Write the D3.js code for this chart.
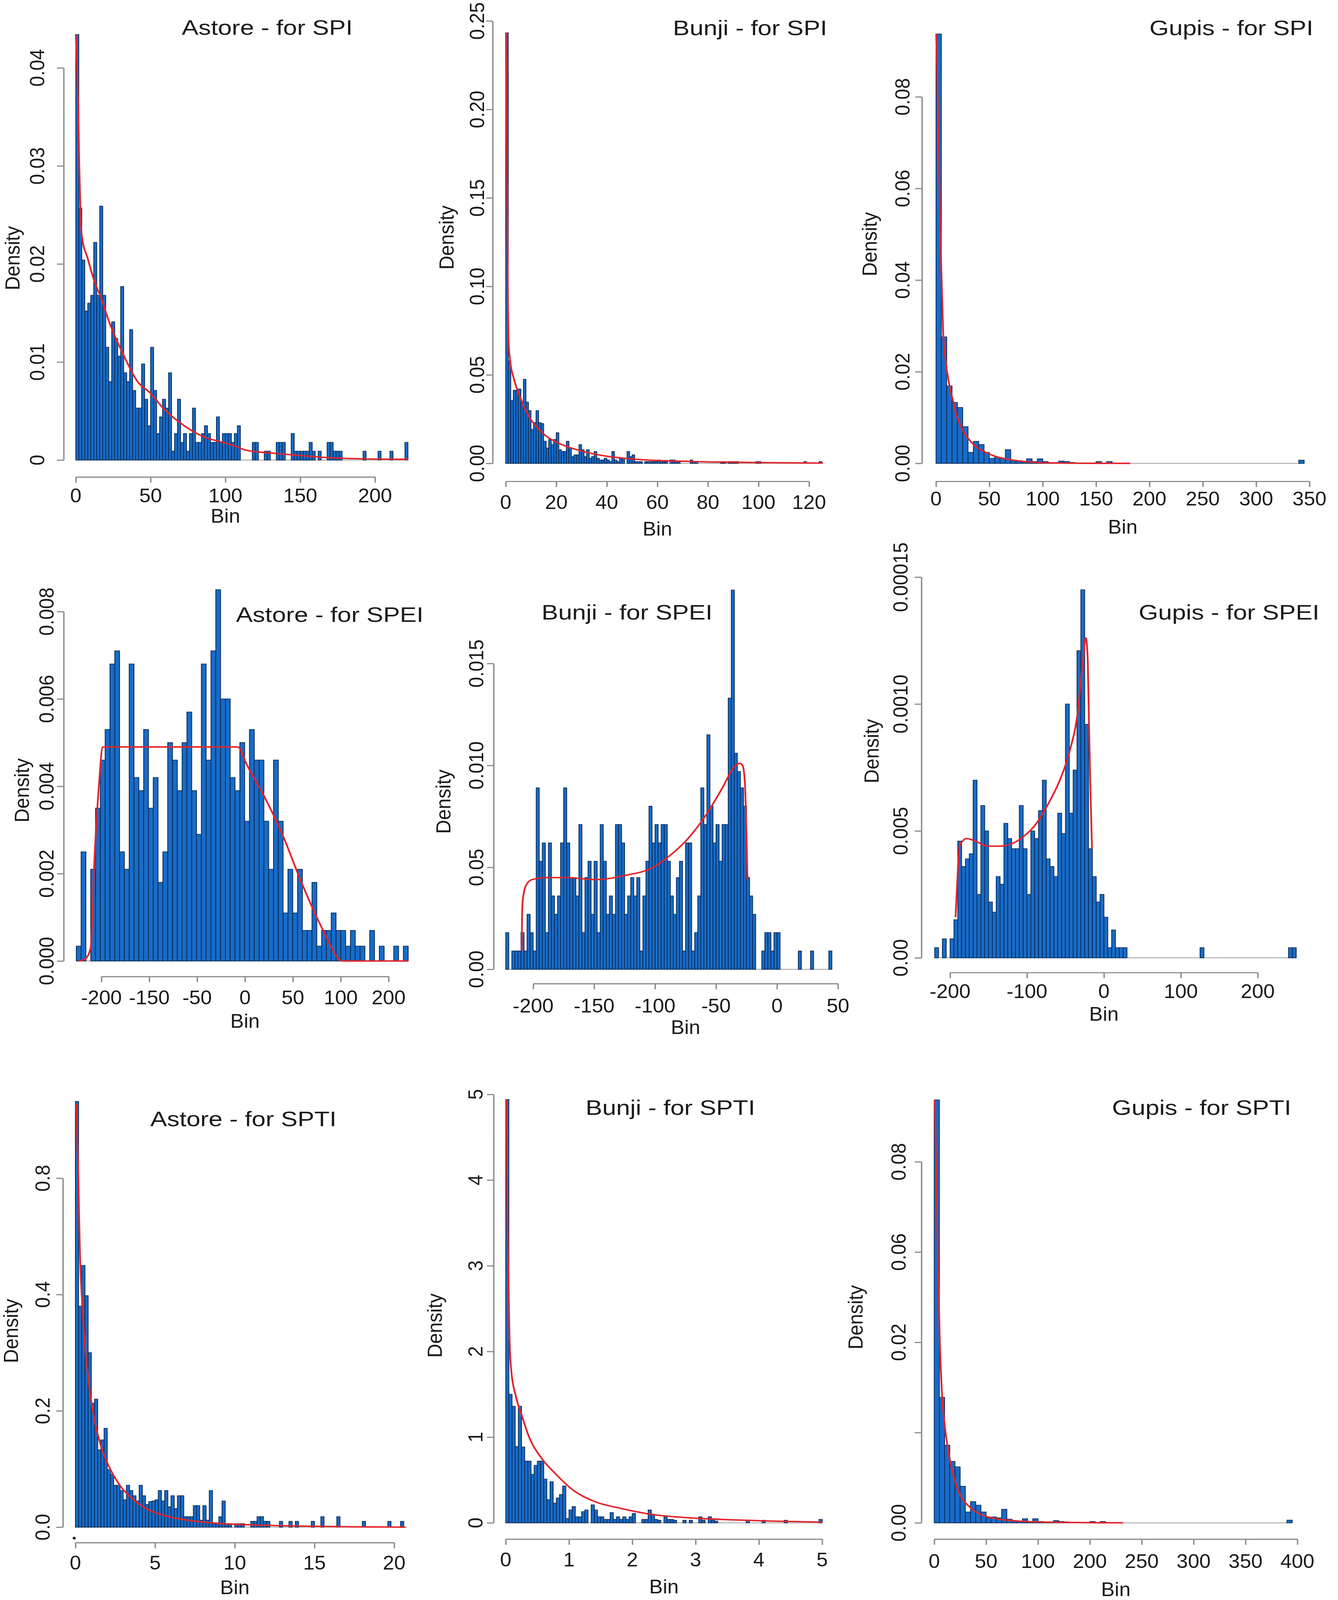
<!DOCTYPE html>
<html>
<head>
<meta charset="utf-8">
<script src="https://cdn.jsdelivr.net/npm/d3@7"></script>
<style>
  html, body { margin: 0; padding: 0; background: #fff; overflow: hidden; }
  svg { display: block; }
</style>
</head>
<body>
<svg id="chart"></svg>
<script>
// ---- datos ----
const titles = ["Astore - for SPI", "Bunji - for SPI", "Gupis - for SPI",
                "Astore - for SPEI", "Bunji - for SPEI", "Gupis - for SPEI",
                "Astore - for SPTI", "Bunji - for SPTI", "Gupis - for SPTI"];

// Astore SPI
const astoreSpiStart = 0, astoreSpiWidth = 2;
const astoreSpiDensity = [0.0434,0.0257,0.0204,0.0152,0.0160,0.0168,0.0222,0.0168,0.0259,0.0168,
  0.0115,0.0080,0.0141,0.0124,0.0106,0.0177,0.0089,0.0080,0.0133,0.0071,
  0.0053,0.0053,0.0098,0.0062,0.0035,0.0115,0.0071,0.0027,0.0044,0.0062,
  0.0053,0.0089,0.0009,0.0027,0.0062,0.0018,0.0027,0.0009,0.0027,0.0053,
  0.0018,0.0018,0.0027,0.0035,0.0027,0.0018,0.0018,0.0044,0.0018,0.0027,
  0.0027,0.0027,0.0018,0.0027,0.0035,0,0,0,0,0.0018,
  0.0018,0,0,0.0009,0.0009,0,0,0.0018,0.0018,0.0018,
  0,0,0.0027,0.0009,0.0009,0.0009,0.0009,0.0009,0.0018,0.0009,
  0,0.0009,0,0,0.0018,0.0018,0.0009,0.0009,0.0009,0,
  0,0,0,0,0,0,0.0009,0,0,0,
  0,0.0009,0,0,0,0.0009,0,0,0,0,0.0018];
const astoreSpiFit = [[0,0.0434],[1.5,0.0365],[2.4,0.0296],[3.3,0.0244],[4.2,0.0227],[7.9,0.0206],
  [12.5,0.0182],[17,0.0165],[22.5,0.014],[28,0.012],[33.5,0.0102],[40.8,0.0081],[50,0.0068],
  [59,0.0052],[68,0.004],[77.5,0.003],[86.6,0.0023],[95.8,0.0019],[105,0.0015],[114,0.001],
  [132,0.0007],[150.7,0.00045],[169,0.00024],[187,0.00014],[222,0.00007]];
const astoreSpiXTicks = [0, 50, 100, 150, 200];
const astoreSpiXLabels = ["0", "50", "100", "150", "200"];
const astoreSpiYTicks = [0, 0.01, 0.02, 0.03, 0.04];
const astoreSpiYLabels = ["0", "0.01", "0.02", "0.03", "0.04"];

// Bunji SPI
const bunjiSpiStart = 0, bunjiSpiWidth = 1;
const bunjiSpiDensity = [0.2433,0.058,0.0356,0.0413,0.0413,0.042,0.0346,0.0475,0.0346,0.0298,
  0.0192,0.023,0.0298,0.023,0.0225,0.0125,0.0087,0.0135,0.0106,0.0135,
  0.0173,0.0077,0.0067,0.0067,0.0125,0.0087,0.0038,0.0048,0.0048,0.0106,
  0.0077,0.0038,0.0077,0.0029,0.0038,0.0067,0.0029,0.0019,0.0019,0.0029,
  0.0019,0.001,0.0067,0.0019,0.001,0.0029,0.0029,0,0.0067,0.0038,
  0.0048,0.001,0.001,0.001,0,0.001,0.001,0.001,0.001,0.001,
  0.0019,0.0015,0.001,0.001,0,0.0019,0.0019,0.001,0.001,0,
  0,0,0,0.0019,0.001,0.001,0,0,0,0,
  0,0,0,0,0,0.001,0.001,0,0.001,0.001,
  0.001,0.001,0,0,0,0,0,0,0,0.001,
  0.001,0,0,0,0,0,0,0,0,0,
  0,0,0,0,0,0,0,0,0.001,0,
  0,0,0,0,0.001];
const bunjiSpiFit = [[0.1,0.2433],[0.6,0.147],[0.9,0.089],[1.1,0.070],[1.7,0.0587],[3.4,0.047],
  [5.7,0.0375],[8,0.0298],[10.3,0.024],[12.6,0.0202],[16,0.0154],[19.4,0.0125],[24,0.0096],
  [29.7,0.0071],[35.4,0.0052],[41,0.0038],[46.9,0.0029],[58.3,0.0017],[69.7,0.0012],[81,0.0008],
  [92.6,0.0006],[104,0.0004],[125.5,0.0002]];
const bunjiSpiXTicks = [0, 20, 40, 60, 80, 100, 120];
const bunjiSpiXLabels = ["0", "20", "40", "60", "80", "100", "120"];
const bunjiSpiYTicks = [0, 0.05, 0.10, 0.15, 0.20, 0.25];
const bunjiSpiYLabels = ["0.00", "0.05", "0.10", "0.15", "0.20", "0.25"];

// Gupis SPI
const gupisSpiStart = 0, gupisSpiWidth = 5;
const gupisSpiDensity = [0.0937,0.0276,0.0169,0.0133,0.0122,0.0080,0.0024,0.0048,0.0041,0.0024,
  0.0011,0.0013,0.0011,0.0030,0.0007,0.0006,0.0004,0.0010,0.0004,0.0010,
  0.0004,0.0002,0.0002,0.0005,0.0004,0.0002,0,0,0,0,
  0.0004,0,0.0004,0,0,0,0,0,0,0,
  0,0,0,0,0,0,0,0,0,0,
  0,0,0,0,0,0,0,0,0,0,
  0,0,0,0,0,0,0,0,0.0007];
const gupisSpiFit = [[0.2,0.0937],[2,0.075],[3.4,0.0596],[5,0.0419],[6.7,0.0285],[8.9,0.0226],
  [11.7,0.0181],[15.9,0.0137],[20,0.01],[25.7,0.007],[34,0.0044],[45,0.0026],[56,0.0015],
  [73,0.0007],[95.5,0.0002],[134,0.00003],[182,0]];
const gupisSpiXTicks = [0, 50, 100, 150, 200, 250, 300, 350];
const gupisSpiXLabels = ["0", "50", "100", "150", "200", "250", "300", "350"];
const gupisSpiYTicks = [0, 0.02, 0.04, 0.06, 0.08];
const gupisSpiYLabels = ["0.00", "0.02", "0.04", "0.06", "0.08"];

// Astore SPEI
const astoreSpeiStart = -235, astoreSpeiWidth = 6.7;
const astoreSpeiDensity = [0.00034,0.0025,0,0.0021,0.0035,0.0046,0.0053,0.0068,0.0071,0.0025,
  0.0021,0.0068,0.0042,0.0039,0.0053,0.0035,0.0042,0.0018,0.0025,0.0050,
  0.0046,0.0039,0.0050,0.0057,0.0039,0.0029,0.0068,0.0046,0.0071,0.0085,
  0.0060,0.0060,0.0042,0.0039,0.0050,0.0032,0.0053,0.0046,0.0046,0.0032,
  0.0021,0.0046,0.0032,0.0011,0.0021,0.0011,0.0021,0.0007,0.0007,0.0018,
  0.00034,0.0007,0.0007,0.0011,0.0007,0.0007,0.00034,0.0007,0.00034,0.00034,
  0,0.0007,0,0.00034,0,0,0.00034,0,0.00034];
const astoreSpeiFit = [[-232,0],[-223,0.00004],[-215,0.0003],[-209.5,0.0024],[-204,0.0039],
  [-198,0.0049],[-10,0.0049],[2.3,0.0045],[29,0.0037],[52,0.0029],[78.6,0.0018],[109,0.0007],
  [136,0],[227.5,0]];
const astoreSpeiXTicks = [-200, -133.33, -66.67, 0, 66.67, 133.33, 200];
const astoreSpeiXLabels = ["-200", "-150", "-50", "0", "50", "100", "200"];
const astoreSpeiYTicks = [0, 0.002, 0.004, 0.006, 0.008];
const astoreSpeiYLabels = ["0.000", "0.002", "0.004", "0.006", "0.008"];

// Bunji SPEI
const bunjiSpeiStart = -222.5, bunjiSpeiWidth = 2.5;
const bunjiSpeiDensity = [0.0018,0,0.0009,0.0009,0.0009,0.0018,0.0009,0.0027,0.0018,0.0009,
  0.0089,0.0053,0.0062,0.0018,0.0062,0.0036,0.0027,0.0036,0.0062,0.0089,
  0.0062,0.0045,0.0045,0.0036,0.0071,0.0018,0.0045,0.0053,0.0027,0.0053,
  0.0018,0.0071,0.0053,0.0027,0.0036,0.0027,0.0071,0.0071,0.0062,0.0027,
  0.0036,0.0045,0.0036,0.0045,0.0009,0.0036,0.0053,0.0080,0.0062,0.0071,
  0.0062,0.0071,0.0071,0.0053,0.0036,0.0027,0.0045,0.0053,0.0009,0.0062,
  0.0062,0.0009,0.0018,0.0036,0.0089,0.0071,0.0115,0.0080,0.0062,0.0071,
  0.0053,0.0071,0.0071,0.0133,0.0186,0.0106,0.0097,0.0089,0.0080,0.0045,
  0.0036,0.0027,0,0,0.0009,0.0018,0.0018,0.0009,0.0018,0.0018,
  0,0,0,0,0,0,0.0009,0,0,0,
  0.0009,0,0,0,0,0,0.0009];
const bunjiSpeiFit = [[-209.5,0.0009],[-208.8,0.0032],[-207.8,0.0037],[-206,0.0041],[-201,0.0044],
  [-189,0.0045],[-172.7,0.0045],[-149,0.0044],[-125,0.0046],[-101.7,0.005],[-87.4,0.0056],
  [-73.2,0.0064],[-59,0.0075],[-44.8,0.0089],[-35.3,0.0099],[-30.5,0.0101],[-28.2,0.01],
  [-26.3,0.0091],[-25.3,0.0072],[-24.2,0.0044]];
const bunjiSpeiXTicks = [-200, -150, -100, -50, 0, 50];
const bunjiSpeiXLabels = ["-200", "-150", "-100", "-50", "0", "50"];
const bunjiSpeiYTicks = [0, 0.005, 0.010, 0.015];
const bunjiSpeiYLabels = ["0.00", "0.05", "0.010", "0.015"];

// Gupis SPEI
const gupisSpeiStart = -220, gupisSpeiWidth = 5;
const gupisSpeiDensity = [0.0004,0,0.00075,0,0.00075,0.0015,0.0046,0.0036,0.0039,0.0041,
  0.0070,0.0025,0.0060,0.0050,0.0022,0.0018,0.0032,0.0029,0.0053,0.0047,
  0.0043,0.0043,0.0060,0.0043,0.0025,0.0050,0.0047,0.0058,0.0070,0.0039,
  0.0036,0.0032,0.0057,0.0049,0.0100,0.0057,0.0074,0.0121,0.0145,0.0092,
  0.0043,0.0032,0.0022,0.0025,0.0016,0.0004,0.0011,0.0004,0.0004,0.0004,
  0,0,0,0,0,0,0,0,0,0,
  0,0,0,0,0,0,0,0,0,0.0004,
  0,0,0,0,0,0,0,0,0,0,
  0,0,0,0,0,0,0,0,0,0,
  0,0,0.0004,0.0004];
const gupisSpeiFit = [[-192.9,0.0016],[-190,0.0034],[-187.7,0.0044],[-183.7,0.0046],[-179,0.0047],
  [-167,0.0046],[-151,0.0044],[-135,0.0044],[-119.4,0.0045],[-103.6,0.0048],[-87.7,0.0053],
  [-71.8,0.0061],[-56,0.0071],[-44,0.0082],[-34,0.0097],[-28,0.0115],[-23.4,0.0126],[-21,0.0117],
  [-19.4,0.0092],[-17.5,0.0066],[-15.5,0.0043]];
const gupisSpeiXTicks = [-200, -100, 0, 100, 200];
const gupisSpeiXLabels = ["-200", "-100", "0", "100", "200"];
const gupisSpeiYTicks = [0, 0.005, 0.010, 0.015];
const gupisSpeiYLabels = ["0.00", "0.005", "0.0010", "0.00015"];

// Astore SPTI
const astoreSptiStart = 0, astoreSptiWidth = 0.2;
const astoreSptiDensity = [0.732,0.380,0.450,0.398,0.300,0.213,0.220,0.133,0.150,0.170,
  0.099,0.091,0.072,0.072,0.063,0.047,0.072,0.063,0.054,0.045,
  0.072,0.054,0.039,0.044,0.045,0.047,0.063,0.045,0.063,0.035,
  0.054,0.032,0.054,0.054,0.018,0.018,0.018,0.037,0.037,0.012,
  0.037,0.012,0.063,0.006,0.006,0.018,0.045,0.006,0.006,0,
  0.006,0.006,0.006,0,0,0.010,0.010,0.018,0.018,0.010,
  0.010,0,0,0,0.010,0,0,0.010,0,0.010,
  0,0,0,0,0.010,0,0,0.018,0,0,
  0,0,0.018,0,0,0,0,0,0,0,
  0.010,0,0,0,0,0,0,0,0.010,0,
  0,0,0.010,0];
const astoreSptiFit = [[0.05,0.728],[0.17,0.617],[0.29,0.465],[0.43,0.383],[0.6,0.313],[0.86,0.243],
  [1.2,0.184],[1.63,0.137],[2.15,0.102],[2.84,0.070],[3.53,0.050],[4.38,0.033],[5.59,0.020],
  [7.3,0.011],[9.03,0.0064],[11.6,0.0035],[14.2,0.0018],[17.6,0.0006],[20.7,0]];
const astoreSptiXTicks = [0, 5, 10, 15, 20];
const astoreSptiXLabels = ["0", "5", "10", "15", "20"];
const astoreSptiYTicks = [0, 0.2, 0.4, 0.6];
const astoreSptiYLabels = ["0.0", "0.2", "0.4", "0.8"];

// Bunji SPTI
const bunjiSptiStart = 0, bunjiSptiWidth = 0.05;
const bunjiSptiDensity = [4.94,1.50,1.36,0.89,1.36,0.885,0.72,0.72,0.566,0.67,
  0.72,0.72,0.51,0.27,0.48,0.23,0.29,0.33,0.43,0.05,
  0.15,0.19,0.07,0.07,0.13,0.15,0,0.21,0.15,0.07,
  0.07,0.04,0.04,0.12,0.04,0.07,0.04,0.07,0.04,0.07,
  0.11,0,0,0.04,0.04,0.15,0.10,0.04,0.03,0,
  0.07,0.04,0.04,0.03,0,0,0.03,0,0.03,0,
  0,0.07,0.03,0,0.07,0.03,0.02,0,0,0,
  0,0,0,0,0,0,0.03,0,0,0,
  0,0.03,0,0,0,0,0,0,0.03,0,
  0,0,0,0,0,0,0,0,0,0.04];
const bunjiSptiFit = [[0.01,4.94],[0.03,3.36],[0.06,2.16],[0.09,1.76],[0.16,1.48],[0.26,1.24],
  [0.37,1.0],[0.55,0.77],[0.79,0.57],[1.05,0.39],[1.4,0.25],[1.83,0.167],[2.33,0.096],
  [2.87,0.06],[3.55,0.036],[4.23,0.02],[5,0.008]];
const bunjiSptiXTicks = [0, 1, 2, 3, 4, 5];
const bunjiSptiXLabels = ["0", "1", "2", "3", "4", "5"];
const bunjiSptiYTicks = [0, 1, 2, 3, 4, 5];
const bunjiSptiYLabels = ["0", "1", "2", "3", "4", "5"];

// Gupis SPTI
const gupisSptiStart = 0, gupisSptiWidth = 5;
const gupisSptiDensity = [0.0937,0.0278,0.0172,0.0136,0.0124,0.0081,0.0024,0.0047,0.0039,0.0024,
  0.0011,0.0013,0.0011,0.0030,0.0008,0.0005,0.0003,0.0009,0.0003,0.0009,
  0.0003,0.0002,0.0002,0.0005,0.0003,0.0002,0,0,0,0,
  0.0003,0,0.0003,0,0,0,0,0,0,0,
  0,0,0,0,0,0,0,0,0,0,
  0,0,0,0,0,0,0,0,0,0,
  0,0,0,0,0,0,0,0,0.0006];
const gupisSptiFit = [[0.6,0.0937],[2.1,0.0765],[3.8,0.056],[5.3,0.041],[7.4,0.0289],[10.3,0.0213],
  [14.7,0.0145],[19.1,0.01],[25,0.0062],[33.8,0.0036],[45.6,0.0018],[60.3,0.0009],[81,0.0004],
  [110,0.00015],[182,0]];
const gupisSptiXTicks = [0, 50, 100, 150, 200, 250, 300, 350];
const gupisSptiXLabels = ["0", "50", "100", "200", "250", "300", "350", "400"];
const gupisSptiYTicks = [0, 0.02, 0.04, 0.06, 0.08];
const gupisSptiYLabels = ["0.00", "", "0.02", "0.06", "0.08"];

// ---- posicion de cada panel (pixeles del lienzo 3425 x 4810) ----
const panels = [
  { title: titles[0], start: astoreSpiStart, width: astoreSpiWidth, dens: astoreSpiDensity, fit: astoreSpiFit,
    xTicks: astoreSpiXTicks, xLabels: astoreSpiXLabels, yTicks: astoreSpiYTicks, yLabels: astoreSpiYLabels,
    xPx: [194, 960], yPx: [1383, 204], yAxisX: 163, xAxisY: 1434, yLabX: 95, xLabY: 1490,
    binY: 1551, densX: 32, densY: 776, titleX: 684, titleY: 82 },
  { title: titles[1], start: bunjiSpiStart, width: bunjiSpiWidth, dens: bunjiSpiDensity, fit: bunjiSpiFit,
    xTicks: bunjiSpiXTicks, xLabels: bunjiSpiXLabels, yTicks: bunjiSpiYTicks, yLabels: bunjiSpiYLabels,
    xPx: [1294.5, 2071], yPx: [1393, 63], yAxisX: 1261, xAxisY: 1447, yLabX: 1221, xLabY: 1510,
    binY: 1590, densX: 1143, densY: 714, titleX: 1920, titleY: 84 },
  { title: titles[2], start: gupisSpiStart, width: gupisSpiWidth, dens: gupisSpiDensity, fit: gupisSpiFit,
    xTicks: gupisSpiXTicks, xLabels: gupisSpiXLabels, yTicks: gupisSpiYTicks, yLabels: gupisSpiYLabels,
    xPx: [2396, 3352], yPx: [1393, 291], yAxisX: 2360, xAxisY: 1447, yLabX: 2310, xLabY: 1500,
    binY: 1584, densX: 2226, densY: 734, titleX: 3152, titleY: 84 },
  { title: titles[3], start: astoreSpeiStart, width: astoreSpeiWidth, dens: astoreSpeiDensity, fit: astoreSpeiFit,
    xTicks: astoreSpeiXTicks, xLabels: astoreSpeiXLabels, yTicks: astoreSpeiYTicks, yLabels: astoreSpeiYLabels,
    xPx: [259.6, 994.7], yPx: [2889, 1838.5], yAxisX: 163, xAxisY: 2935.5, yLabX: 119, xLabY: 2999,
    binY: 3070, densX: 56, densY: 2376, titleX: 844, titleY: 1848 },
  { title: titles[4], start: bunjiSpeiStart, width: bunjiSpeiWidth, dens: bunjiSpeiDensity, fit: bunjiSpeiFit,
    xTicks: bunjiSpeiXTicks, xLabels: bunjiSpeiXLabels, yTicks: bunjiSpeiYTicks, yLabels: bunjiSpeiYLabels,
    xPx: [1364.8, 2145], yPx: [2914, 1994.6], yAxisX: 1263.5, xAxisY: 2957, yLabX: 1219, xLabY: 3024,
    binY: 3088, densX: 1135, densY: 2410, titleX: 1605, titleY: 1840 },
  { title: titles[5], start: gupisSpeiStart, width: gupisSpeiWidth, dens: gupisSpeiDensity, fit: gupisSpeiFit,
    xTicks: gupisSpeiXTicks, xLabels: gupisSpeiXLabels, yTicks: gupisSpeiYTicks, yLabels: gupisSpeiYLabels,
    xPx: [2432, 3219.6], yPx: [2879.5, 1735], yAxisX: 2358.6, xAxisY: 2923.7, yLabX: 2305, xLabY: 2980,
    binY: 3048, densX: 2231, densY: 2258, titleX: 3146, titleY: 1840 },
  { title: titles[6], start: astoreSptiStart, width: astoreSptiWidth, dens: astoreSptiDensity, fit: astoreSptiFit,
    xTicks: astoreSptiXTicks, xLabels: astoreSptiXLabels, yTicks: astoreSptiYTicks, yLabels: astoreSptiYLabels,
    xPx: [193, 1009], yPx: [4591, 3542], yAxisX: 161, xAxisY: 4637.5, yLabX: 109, xLabY: 4699,
    binY: 4772, densX: 28, densY: 4001, titleX: 623, titleY: 3364, punto: [190, 4624] },
  { title: titles[7], start: bunjiSptiStart, width: bunjiSptiWidth, dens: bunjiSptiDensity, fit: bunjiSptiFit,
    xTicks: bunjiSptiXTicks, xLabels: bunjiSptiXLabels, yTicks: bunjiSptiYTicks, yLabels: bunjiSptiYLabels,
    xPx: [1294.5, 2104.6], yPx: [4578, 3290], yAxisX: 1263.5, xAxisY: 4627, yLabX: 1217, xLabY: 4689,
    binY: 4770, densX: 1113, densY: 3985, titleX: 1716, titleY: 3330 },
  { title: titles[8], start: gupisSptiStart, width: gupisSptiWidth, dens: gupisSptiDensity, fit: gupisSptiFit,
    xTicks: gupisSptiXTicks, xLabels: gupisSptiXLabels, yTicks: gupisSptiYTicks, yLabels: gupisSptiYLabels,
    xPx: [2391.4, 3321], yPx: [4578, 3492.6], yAxisX: 2358.6, xAxisY: 4627, yLabX: 2300, xLabY: 4694,
    binY: 4778, densX: 2190, densY: 3960, titleX: 3076, titleY: 3330 }
];

// el lienzo se ajusta a la ventana visible (la imagen entera debe caber)
const anchoVista = window.innerWidth || 3425;
const altoVista = window.innerHeight || 4810;
const svg = d3.select("#chart")
  .attr("width", anchoVista)
  .attr("height", altoVista)
  .attr("viewBox", "0 0 3425 4810")
  .attr("preserveAspectRatio", "none");

const fuente = "'Liberation Sans', Arial, Helvetica, sans-serif";
const axisSize = 58, titleSize = 64;
const colorEje = "#8a8a8a";

// texto algo comprimido en horizontal, como en la imagen original
function texto(g, x, y, str, size, rotar) {
  return g.append("text")
    .attr("transform", "translate(" + x + "," + y + ") scale(0.9,1)" + (rotar ? " rotate(-90)" : ""))
    .attr("text-anchor", "middle")
    .attr("dominant-baseline", "central")
    .style("font-family", fuente)
    .style("font-size", size + "px")
    .attr("fill", "#1a1a1a")
    .text(str);
}

panels.forEach(function(p) {
  const x = d3.scaleLinear()
    .domain([p.xTicks[0], p.xTicks[p.xTicks.length - 1]])
    .range(p.xPx);
  const y = d3.scaleLinear()
    .domain([p.yTicks[0], p.yTicks[p.yTicks.length - 1]])
    .range(p.yPx);

  const g = svg.append("g");

  const bins = p.dens.map(function(v, i) {
    return { x0: p.start + i * p.width, x1: p.start + (i + 1) * p.width, v: v };
  });

  // linea base gris bajo las barras (celdas vacias)
  g.append("line")
    .attr("x1", x(bins[0].x0)).attr("x2", x(bins[bins.length - 1].x1))
    .attr("y1", y(0)).attr("y2", y(0))
    .attr("stroke", "#b0b0b0").attr("stroke-width", 3);

  g.selectAll("rect")
    .data(bins.filter(function(d) { return d.v > 0; }))
    .enter()
    .append("rect")
    .attr("x", function(d) { return x(d.x0); })
    .attr("width", function(d) { return x(d.x1) - x(d.x0); })
    .attr("y", function(d) { return y(d.v); })
    .attr("height", function(d) { return y(0) - y(d.v); })
    .attr("fill", "#176cc9")
    .attr("stroke", "#0e2c55")
    .attr("stroke-width", 2);

  // curva ajustada
  const linea = d3.line()
    .x(function(d) { return x(d[0]); })
    .y(function(d) { return y(d[1]); })
    .curve(d3.curveMonotoneX);
  g.append("path")
    .datum(p.fit)
    .attr("d", linea)
    .attr("fill", "none")
    .attr("stroke", "#e3242b")
    .attr("stroke-width", 4.5);

  // ejes (solo lineas y marcas)
  const ejeX = g.append("g")
    .attr("transform", "translate(0," + p.xAxisY + ")")
    .call(d3.axisBottom(x).tickValues(p.xTicks).tickFormat("").tickSize(17).tickSizeOuter(0));
  const ejeY = g.append("g")
    .attr("transform", "translate(" + p.yAxisX + ",0)")
    .call(d3.axisLeft(y).tickValues(p.yTicks).tickFormat("").tickSize(17).tickSizeOuter(0));
  [ejeX, ejeY].forEach(function(e) {
    e.select(".domain").attr("stroke", colorEje).attr("stroke-width", 3.5);
    e.selectAll(".tick line").attr("stroke", colorEje).attr("stroke-width", 3.5);
  });

  // etiquetas de marcas
  p.xTicks.forEach(function(t, i) { texto(g, x(t), p.xLabY, p.xLabels[i], axisSize, false); });
  p.yTicks.forEach(function(t, i) { texto(g, p.yLabX, y(t), p.yLabels[i], axisSize, true); });

  texto(g, (p.xPx[0] + p.xPx[1]) / 2, p.binY, "Bin", axisSize, false);
  texto(g, p.densX, p.densY, "Density", axisSize, true);

  if (p.punto) {
    g.append("circle").attr("cx", p.punto[0]).attr("cy", p.punto[1]).attr("r", 4).attr("fill", "#222");
  }

  g.append("text")
    .attr("x", p.titleX).attr("y", p.titleY)
    .attr("text-anchor", "middle")
    .attr("dominant-baseline", "central")
    .style("font-family", fuente)
    .style("font-size", titleSize + "px")
    .attr("fill", "#1a1a1a")
    .text(p.title);
});
</script>
</body>
</html>
